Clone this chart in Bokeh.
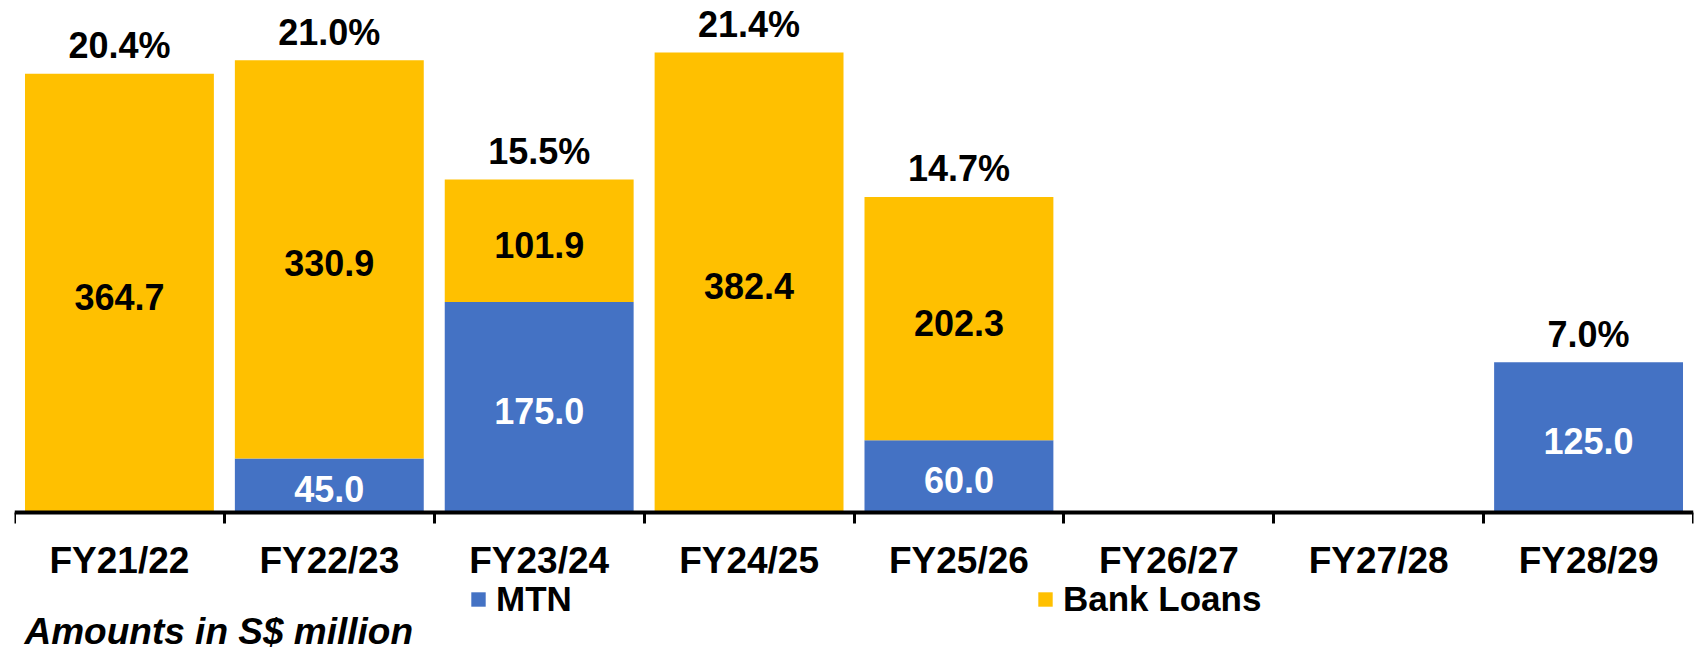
import numpy as np
from bokeh.plotting import figure
from bokeh.models import ColumnDataSource, Range1d, FixedTicker, LinearAxis, Legend, LegendItem, Label
from bokeh.core.properties import value
from bokeh.embed import file_html
from bokeh.resources import INLINE

categories = ["FY21/22", "FY22/23", "FY23/24", "FY24/25", "FY25/26", "FY26/27", "FY27/28", "FY28/29"]
mtn = [0, 45.0, 175.0, 0, 60.0, 0, 0, 125.0]
bank_loans = [364.7, 330.9, 101.9, 382.4, 202.3, 0, 0, 0]
pct_labels = ["20.4%", "21.0%", "15.5%", "21.4%", "14.7%", "", "", "7.0%"]
series_names = ["MTN", "Bank Loans"]
footnote = "Amounts in S$ million"

BLUE = "#4472C4"
GOLD = "#FFC000"
FONT = "Liberation Sans"

n = len(categories)
x = np.arange(n) + 0.5
mtn_a = np.array(mtn)
bank_a = np.array(bank_loans)
total = mtn_a + bank_a

# frame spans the full height; the axis is fixed at y=0 inside it
p = figure(width=1696, height=650, output_backend="svg", toolbar_location=None,
           x_range=Range1d(0, n), y_range=Range1d(-114.7, 425.6),
           min_border_left=14, min_border_right=3, min_border_top=0, min_border_bottom=0,
           x_axis_type=None, y_axis_type=None)
p.outline_line_color = None
p.background_fill_color = "white"
p.border_fill_color = "white"

src = ColumnDataSource(dict(x=x, mtn=mtn_a, bank=bank_a, total=total))
r_mtn = p.vbar(x="x", bottom=0, top="mtn", width=0.9, fill_color=BLUE, line_color=None, source=src)
r_bank = p.vbar(x="x", bottom="mtn", top="total", width=0.9, fill_color=GOLD, line_color=None, source=src)

# percentage labels above stacks
pm = total > 0
psrc = ColumnDataSource(dict(x=x[pm], y=total[pm], t=[pct_labels[i] for i in range(n) if pm[i]]))
p.text(x="x", y="y", text="t", source=psrc, text_align="center", text_baseline="alphabetic",
       y_offset=-28, text_font=value(FONT), text_font_style="bold", text_font_size="36px", text_color="black")

# value labels inside segments
mm = mtn_a > 0
msrc = ColumnDataSource(dict(x=x[mm], y=mtn_a[mm] / 2, t=[f"{v:.1f}" for v in mtn_a[mm]]))
p.text(x="x", y="y", text="t", source=msrc, text_align="center", text_baseline="middle", y_offset=4,
       text_font=value(FONT), text_font_style="bold", text_font_size="36px", text_color="white")
bm = bank_a > 0
bsrc = ColumnDataSource(dict(x=x[bm], y=mtn_a[bm] + bank_a[bm] / 2, t=[f"{v:.1f}" for v in bank_a[bm]]))
p.text(x="x", y="y", text="t", source=bsrc, text_align="center", text_baseline="middle", y_offset=4,
       text_font=value(FONT), text_font_style="bold", text_font_size="36px", text_color="black")

# x axis: labels at category centres, ticks at category boundaries
ax = LinearAxis(ticker=FixedTicker(ticks=list(x), minor_ticks=list(range(n + 1))),
                major_label_overrides={float(xi): c for xi, c in zip(x, categories)},
                fixed_location=0)
ax.axis_line_color = "black"
ax.axis_line_width = 4
ax.major_tick_line_color = None
ax.major_tick_out = 11
ax.major_tick_in = 0
ax.minor_tick_line_color = "black"
ax.minor_tick_line_width = 3
ax.minor_tick_out = 11
ax.minor_tick_in = 0
ax.major_label_standoff = 16
ax.major_label_text_font = FONT
ax.major_label_text_font_style = "bold"
ax.major_label_text_font_size = "37px"
ax.major_label_text_color = "black"
p.add_layout(ax, "below")

def make_legend(label, renderer, loc):
    lg = Legend(items=[LegendItem(label=label, renderers=[renderer])], location=loc,
                orientation="horizontal", padding=0, margin=0, spacing=0,
                glyph_width=18, glyph_height=18, label_standoff=9,
                label_text_font=FONT, label_text_font_style="bold", label_text_font_size="35px",
                label_text_color="black", border_line_color=None, background_fill_alpha=0)
    p.add_layout(lg, "center")

make_legend(series_names[0], r_mtn, (455, 31))
make_legend(series_names[1], r_bank, (1022, 31))

p.add_layout(Label(x=10, y=19, x_units="screen", y_units="screen", text=footnote,
                   text_font=FONT, text_font_style="bold italic", text_font_size="37px",
                   text_color="black", text_baseline="alphabetic"))

open("out.html", "w").write(file_html(p, INLINE))
